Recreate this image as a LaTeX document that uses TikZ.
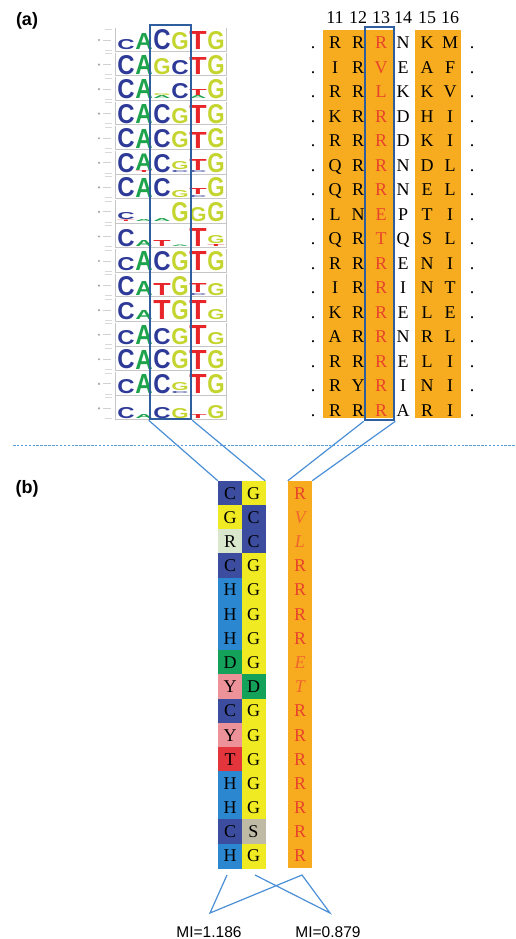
\documentclass[tikz,border=0pt]{standalone}
\usepackage{fontspec}
\setmainfont{Liberation Serif}
\setsansfont{Liberation Sans}
\usepackage{graphicx}
\definecolor{orng}{HTML}{F7AC1F}
\definecolor{resred}{HTML}{E8432B}
\definecolor{resorg}{HTML}{F0662E}
\definecolor{boxblue}{HTML}{2F5E9E}
\definecolor{connblue}{HTML}{4B8FD6}
\definecolor{dashblue}{HTML}{5A9BD8}
\definecolor{dnaC}{HTML}{3C4DA0}
\definecolor{dnaG}{HTML}{EFEA22}
\definecolor{dnaR}{HTML}{D9E8CC}
\definecolor{dnaH}{HTML}{2B87D0}
\definecolor{dnaD}{HTML}{14A25A}
\definecolor{dnaY}{HTML}{EE929A}
\definecolor{dnaT}{HTML}{E4343C}
\definecolor{dnaS}{HTML}{BEBAA6}
\definecolor{lgC}{HTML}{2E3A97}
\definecolor{lgA}{HTML}{1DA34B}
\definecolor{lgG}{HTML}{C4D52F}
\definecolor{lgT}{HTML}{E8262A}
% #1 offset, #2 column, #3 row, #4 letter, #5 height
\newcommand\LogoLet[5][0]{\node[inner sep=0pt, anchor=south, text=lg#4] (lg#3-#2-#4) at ({126+18*(#2-1)}, {50+(#3-1)*24.56-#1}) {\resizebox{17.3pt}{#5pt}{\sffamily\bfseries #4}};}
\newcommand\LogoRowStd[7]{\LogoLet{1}{#1}{C}{#2}\LogoLet{2}{#1}{A}{#3}\LogoLet{3}{#1}{C}{#4}\LogoLet{4}{#1}{G}{#5}\LogoLet{5}{#1}{T}{#6}\LogoLet{6}{#1}{G}{#7}}
\begin{document}
\begin{tikzpicture}[x=1pt,y=-1pt,
  res/.style={font=\fontsize{18}{18}\selectfont, inner sep=0pt, anchor=base},
  lab/.style={font=\fontsize{18}{18}\selectfont\sffamily\bfseries, inner sep=0pt},
  mi/.style={font=\fontsize{15.5}{16}\selectfont\sffamily, inner sep=0pt},
  conn/.style={draw=connblue, line width=1.2pt},
  hbox/.style={draw=boxblue, line width=2.6pt, inner sep=0pt},
  frame/.style={draw=gray!45, line width=0.4pt},
  cell/.style={minimum width=24pt, minimum height=24.3pt, inner sep=0pt, font=\fontsize{18}{18}\selectfont, text height=12pt, text depth=0pt}]
\useasboundingbox (0,0) rectangle (515,939);
\fill[white] (0,0) rectangle (515,939);

% labels
\node[lab] (la) at (27,21) {(a)};
\node[lab] (lb) at (27,489) {(b)};

% ---- sequence logo frames ----
\foreach \r in {1,...,16}{
  \pgfmathsetmacro\yb{50+(\r-1)*24.56}
  \draw[frame] (115,\yb-22) -- (115,\yb+1) -- (226,\yb+1) -- (226,\yb-22);
  \fill[gray!70] (99,\yb-10) circle (1.2);
  \draw[gray!35, line width=0.9pt] (103,\yb-10) -- (111,\yb-10);
  \draw[gray!30, line width=0.6pt] (105,\yb-21) -- (112,\yb-21);
  \draw[gray!30, line width=0.6pt] (105,\yb) -- (112,\yb);
}
% ---- logo letters ----
\LogoRowStd{1}{10}{16}{20}{17}{18}{18}
\LogoLet{1}{2}{C}{19}\LogoLet{2}{2}{A}{19}\LogoLet{3}{2}{G}{16}\LogoLet{4}{2}{C}{14}\LogoLet{5}{2}{T}{17}\LogoLet{6}{2}{G}{19}
\LogoLet{1}{3}{C}{19}\LogoLet{2}{3}{A}{19}\LogoLet{3}{3}{A}{3}\LogoLet[3.6]{3}{3}{G}{2}\LogoLet{4}{3}{C}{15}\LogoLet{5}{3}{A}{3}\LogoLet[3.6]{5}{3}{T}{6}\LogoLet{6}{3}{G}{19}
\LogoRowStd{4}{19}{19}{19}{15}{18}{19}
\LogoRowStd{5}{19}{19}{18}{16}{16}{19}
\LogoLet{1}{6}{C}{19}\LogoLet{2}{6}{T}{2}\LogoLet[2.6]{2}{6}{A}{16.5}\LogoLet{3}{6}{C}{18}\LogoLet{4}{6}{C}{2}\LogoLet[2.6]{4}{6}{G}{8}\LogoLet{5}{6}{C}{2}\LogoLet[2.6]{5}{6}{T}{11}\LogoLet{6}{6}{G}{19}
\LogoLet{1}{7}{C}{19}\LogoLet{2}{7}{A}{19}\LogoLet{3}{7}{C}{18}\LogoLet{4}{7}{G}{7}\LogoLet{5}{7}{C}{2}\LogoLet[2.6]{5}{7}{T}{6}\LogoLet{6}{7}{G}{19}
\LogoLet{1}{8}{T}{1.5}\LogoLet[2.1]{1}{8}{C}{7}\LogoLet{2}{8}{A}{2}\LogoLet{3}{8}{A}{3}\LogoLet{4}{8}{G}{19}\LogoLet{5}{8}{G}{14}\LogoLet{6}{8}{G}{19}
\LogoLet{1}{9}{C}{17}\LogoLet{2}{9}{A}{6}\LogoLet{3}{9}{T}{6}\LogoLet{4}{9}{A}{1.5}\LogoLet{5}{9}{T}{18}\LogoLet{6}{9}{T}{2}\LogoLet[2.6]{6}{9}{G}{8}
\LogoRowStd{10}{13}{19}{19}{19}{19}{19}
\LogoLet{1}{11}{C}{19}\LogoLet{2}{11}{A}{14}\LogoLet{3}{11}{T}{12}\LogoLet{4}{11}{G}{19}\LogoLet{5}{11}{C}{2}\LogoLet[2.6]{5}{11}{T}{9}\LogoLet{6}{11}{G}{12}
\LogoLet{1}{12}{C}{17}\LogoLet{2}{12}{A}{9}\LogoLet{3}{12}{T}{19}\LogoLet{4}{12}{G}{19}\LogoLet{5}{12}{T}{19}\LogoLet{6}{12}{G}{10}
\LogoRowStd{13}{14}{19}{16}{16}{19}{12}
\LogoRowStd{14}{19}{19}{19}{18}{19}{18}
\LogoLet{1}{15}{C}{14}\LogoLet{2}{15}{A}{19}\LogoLet{3}{15}{C}{19}\LogoLet{4}{15}{C}{2}\LogoLet[2.6]{4}{15}{G}{8}\LogoLet{5}{15}{T}{19}\LogoLet{6}{15}{G}{19}
\LogoRowStd{16}{11}{4}{11}{10}{4}{13}
% logo highlight box
\node[hbox, minimum width=41pt, minimum height=394pt] (lbox) at (170.5,222) {};

% ---- residue table (a) ----
\fill[orng] (323,30) rectangle (393,418);
\fill[orng] (415,30) rectangle (461,418);
\foreach \n/\x in {11/335,12/358,13/381,14/403,15/427,16/450}{
  \node[res] (n\n) at (\x,24) {\n};
}
\foreach \r/\la/\lb/\lc/\ld/\le/\lf in {1/R/R/R/N/K/M, 2/I/R/V/E/A/F, 3/R/R/L/K/K/V, 4/K/R/R/D/H/I,
  5/R/R/R/D/K/I, 6/Q/R/R/N/D/L, 7/Q/R/R/N/E/L, 8/L/N/E/P/T/I, 9/Q/R/T/Q/S/L, 10/R/R/R/E/N/I,
  11/I/R/R/I/N/T, 12/K/R/R/E/L/E, 13/A/R/R/N/R/L, 14/R/R/R/E/L/I, 15/R/Y/R/I/N/I, 16/R/R/R/A/R/I}{
  \pgfmathsetmacro\yb{49+(\r-1)*24.47}
  \node[res] (dl\r) at (313,\yb) {.};
  \node[res] (a\r-11) at (335,\yb) {\la};
  \node[res] (a\r-12) at (358,\yb) {\lb};
  \node[res, text=resred] (a\r-13) at (381,\yb) {\lc};
  \node[res] (a\r-14) at (403,\yb) {\ld};
  \node[res] (a\r-15) at (427,\yb) {\le};
  \node[res] (a\r-16) at (450,\yb) {\lf};
  \node[res] (dr\r) at (472,\yb) {.};
}
\node[hbox, minimum width=29pt, minimum height=393pt] (rbox) at (379.5,223.5) {};

% ---- dashed separator ----
\coordinate (dsA) at (13,445);
\coordinate (dsB) at (515,445);
\draw[dashblue, line width=0.9pt, dash pattern=on 2.5pt off 1.4pt] (dsA) -- (dsB);

% ---- (b) columns ----
\fill[orng] (288,481) rectangle (312,868);
\foreach \r/\L/\R/\O/\oc in {1/C/G/R/resred, 2/G/C/{\itshape V}/resorg, 3/R/C/{\itshape L}/resorg, 4/C/G/R/resred,
  5/H/G/R/resred, 6/H/G/R/resred, 7/H/G/R/resred, 8/D/G/{\itshape E}/resorg, 9/Y/D/{\itshape T}/resorg,
  10/C/G/R/resred, 11/Y/G/R/resred, 12/T/G/R/resred, 13/H/G/R/resred, 14/H/G/R/resred, 15/C/S/R/resred, 16/H/G/R/resred}{
  \pgfmathsetmacro\yc{481+(\r-0.5)*24.19}
  \node[cell, fill=dna\L, draw=dna\L, line width=0.3pt] (dL\r) at (230,\yc) {\L};
  \node[cell, fill=dna\R, draw=dna\R, line width=0.3pt, minimum width=23pt] (dR\r) at (253.5,\yc) {\R};
  \node[cell, text=\oc] (o\r) at (300,\yc) {\O};
}

% ---- connectors ----
\draw[conn] (lbox.south west) -- (dL1.north west);
\draw[conn] (lbox.south east) -- (dR1.north east);
\draw[conn] (rbox.south west) -- (o1.north west);
\draw[conn] (rbox.south east) -- (o1.north east);

\coordinate (bL) at (227,875);
\coordinate (bR) at (255,875);
\coordinate (bO) at (302,875);
\coordinate (m1) at (210,913);
\coordinate (m2) at (330,913);
\draw[conn, line join=miter] (bL) -- (m1) -- (bO) -- (m2) -- (bR);

\node[mi] (mi1) at (209,932) {MI=1.186};
\node[mi] (mi2) at (328,932) {MI=0.879};
\end{tikzpicture}
\end{document}
